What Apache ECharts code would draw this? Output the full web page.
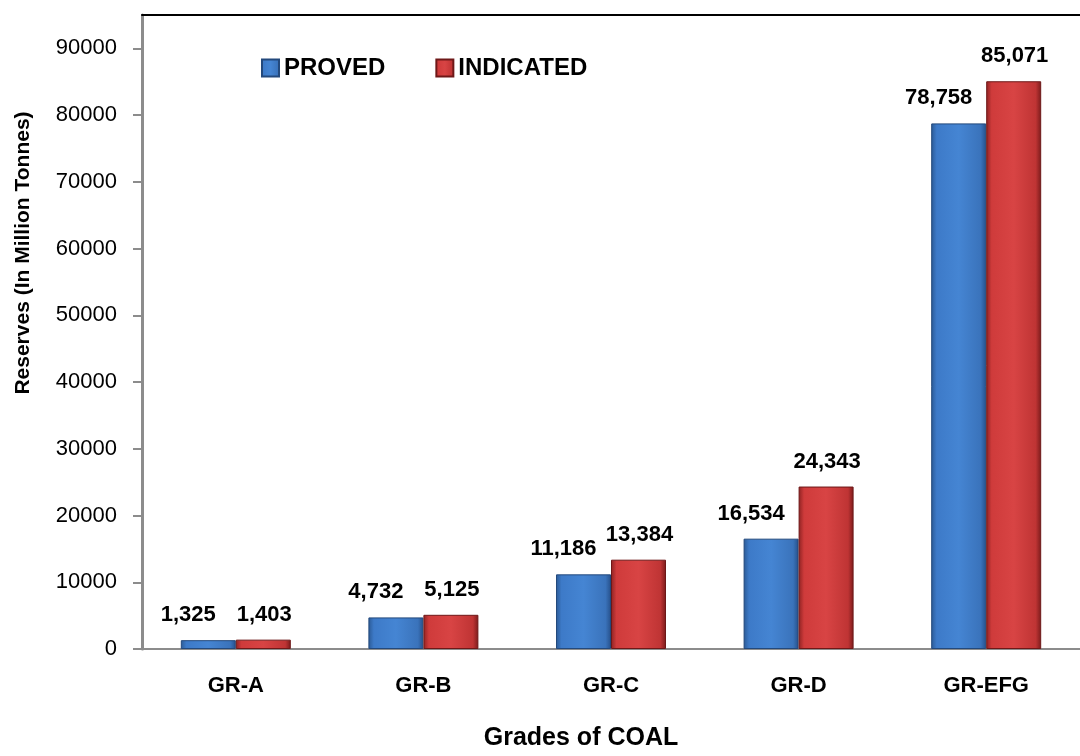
<!DOCTYPE html>
<html>
<head>
<meta charset="utf-8">
<script src="https://cdn.jsdelivr.net/npm/echarts@6/dist/echarts.min.js"></script>
<style>
  html, body { margin: 0; padding: 0; background: #fff; }
  #chart { width: 1080px; height: 756px; }
</style>
</head>
<body>
<div id="chart"></div>
<script>
const grades = ['GR-A', 'GR-B', 'GR-C', 'GR-D', 'GR-EFG']
const proved = [1325, 4732, 11186, 16534, 78758]
const indicated = [1403, 5125, 13384, 24343, 85071]
const yTicks = [0, 10000, 20000, 30000, 40000, 50000, 60000, 70000, 80000, 90000]

const boldFont = '"Liberation Sans", Arial, sans-serif'

const chart = echarts.init(document.getElementById('chart'))

// bevel-ish look: dark edges, lighter middle
const blueFill = {
  type: 'linear', x: 0, y: 0, x2: 1, y2: 0,
  colorStops: [
    { offset: 0, color: '#2b5a95' },
    { offset: 0.1, color: '#3d7ac8' },
    { offset: 0.5, color: '#4585d3' },
    { offset: 0.9, color: '#3a73bb' },
    { offset: 1, color: '#26508a' }
  ]
}
const redFill = {
  type: 'linear', x: 0, y: 0, x2: 1, y2: 0,
  colorStops: [
    { offset: 0, color: '#8e2222' },
    { offset: 0.1, color: '#cf3b3b' },
    { offset: 0.5, color: '#d84444' },
    { offset: 0.9, color: '#bf3434' },
    { offset: 1, color: '#7a1b1b' }
  ]
}

const labelStyle = {
  show: true,
  position: 'top',
  distance: 14,
  color: '#000',
  fontFamily: boldFont,
  fontWeight: 'bold',
  fontSize: 22,
  formatter: p => p.value.toLocaleString('en-US')
}

const option = {
  animation: false,
  grid: {
    left: 142,
    top: 15,
    bottom: 104,
    width: 950
  },
  legend: {
    left: 256,
    top: 51,
    itemWidth: 17,
    itemHeight: 17,
    itemGap: 50,
    icon: 'rect',
    textStyle: {
      fontFamily: boldFont,
      fontWeight: 'bold',
      fontSize: 24,
      color: '#000'
    },
    data: ['PROVED', 'INDICATED']
  },
  xAxis: [
    {
      type: 'category',
      data: grades,
      name: 'Grades of COAL',
      nameLocation: 'middle',
      nameGap: 77,
      nameTextStyle: {
        fontFamily: boldFont,
        fontWeight: 'bold',
        fontSize: 25,
        color: '#000',
        padding: [0, 60, 0, 0]
      },
      axisLine: { lineStyle: { color: '#8c8c8c', width: 2 } },
      axisTick: { length: 8, lineStyle: { color: '#8c8c8c', width: 2 } },
      axisLabel: {
        margin: 26,
        color: '#000',
        fontFamily: boldFont,
        fontWeight: 'bold',
        fontSize: 22
      }
    },
    {
      // top frame line
      type: 'category',
      position: 'top',
      data: grades,
      axisLine: { lineStyle: { color: '#000', width: 2 } },
      axisTick: { show: false },
      axisLabel: { show: false }
    }
  ],
  yAxis: {
    type: 'value',
    min: 0,
    max: 95000,
    name: 'Reserves (In Million Tonnes)',
    nameLocation: 'middle',
    nameGap: 108,
    nameTextStyle: {
      fontFamily: boldFont,
      fontWeight: 'bold',
      fontSize: 21,
      color: '#000',
      padding: [0, 0, 0, 158]
    },
    splitLine: { show: false },
    axisLine: { show: true, lineStyle: { color: '#8c8c8c', width: 3 } },
    axisTick: {
      show: true,
      length: 9,
      customValues: yTicks,
      lineStyle: { color: '#8c8c8c', width: 2 }
    },
    axisLabel: {
      margin: 25,
      customValues: yTicks,
      formatter: v => String(v),
      color: '#000',
      fontFamily: '"Liberation Sans", Arial, sans-serif',
      fontSize: 22
    }
  },
  series: [
    {
      name: 'PROVED',
      type: 'bar',
      data: proved,
      barWidth: 55,
      barGap: '0%',
      itemStyle: { color: blueFill, borderColor: '#23497c', borderWidth: 1 },
      label: Object.assign({}, labelStyle, { offset: [-20, 0] })
    },
    {
      name: 'INDICATED',
      type: 'bar',
      data: indicated,
      barWidth: 55,
      barGap: '0%',
      itemStyle: { color: redFill, borderColor: '#6e1818', borderWidth: 1 },
      label: Object.assign({}, labelStyle, { offset: [1, 0] })
    }
  ]
}

chart.setOption(option)
</script>
</body>
</html>
